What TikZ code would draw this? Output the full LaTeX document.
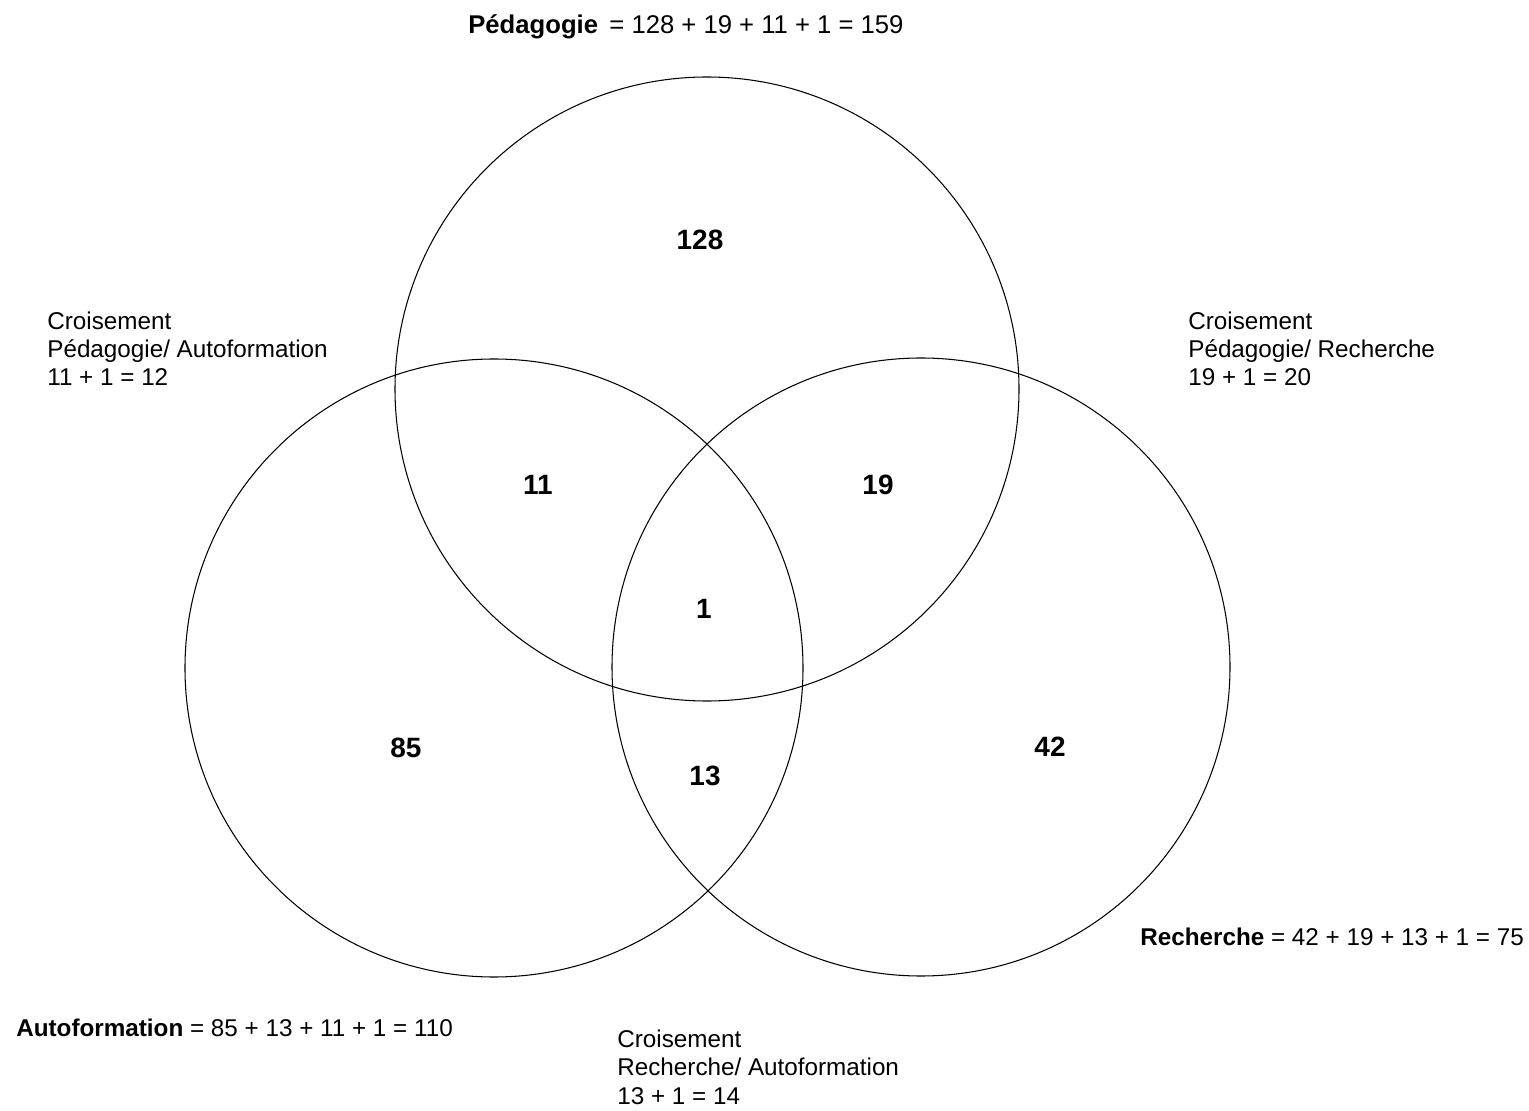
\documentclass[tikz,border=0pt]{standalone}
\usepackage{fontspec}
\setmainfont{Liberation Sans}
\begin{document}
\begin{tikzpicture}[x=0.02cm, y=0.02cm,
    ensemble/.style={line width=0.6pt},
    effectif/.style={font=\bfseries\fontsize{15.9}{18}\selectfont, inner sep=0pt},
    legende/.style={font=\fontsize{13.8}{15.94}\selectfont, align=left, inner sep=0pt, anchor=base west}]
    % 0. Cadre de la figure (1 unité = 1 pixel de l'original)
    \useasboundingbox (0,0) rectangle (1529,1110);

    % 1. Les trois ensembles (Pédagogie en haut, Autoformation à gauche, Recherche à droite)
    \coordinate (cPeda) at (707,721);
    \coordinate (cAuto) at (494,442);
    \coordinate (cRech) at (921,443);
    \draw[ensemble] (cPeda) circle (312);
    \draw[ensemble] (cAuto) circle (309);
    \draw[ensemble] (cRech) circle (309);

    % 2. Effectifs dans chaque zone
    \node[effectif] (nPeda) at (700,870) {128};
    \node[effectif] (nPedaAuto) at (538,625) {11};
    \node[effectif] (nPedaRech) at (878,625) {19};
    \node[effectif] (nTous) at (704,501) {1};
    \node[effectif] (nAuto) at (406,362) {85};
    \node[effectif] (nRechAuto) at (705,334) {13};
    \node[effectif] (nRech) at (1050,363) {42};

    % 3. Totaux et croisements
    % (ancre base west : pour les blocs de trois lignes, c'est la dernière ligne)
    \node[legende, font=\fontsize{14.6}{16.8}\selectfont] (tPeda) at (468,1076) {\textbf{Pédagogie}\, = 128 + 19 + 11 + 1 = 159};
    \node[legende] (tAuto) at (16,74) {\textbf{Autoformation} = 85 + 13 + 11 + 1 = 110};
    \node[legende] (tRech) at (1140,165) {\textbf{Recherche} = 42 + 19 + 13 + 1 = 75};
    \node[legende] (xPedaAuto) at (47,724) {Croisement\\Pédagogie/ Autoformation\\11 + 1 = 12};
    \node[legende] (xPedaRech) at (1188,724) {Croisement\\Pédagogie/ Recherche\\19 + 1 = 20};
    \node[legende] (xRechAuto) at (617,6) {Croisement\\Recherche/ Autoformation\\13 + 1 = 14};
\end{tikzpicture}
\end{document}
